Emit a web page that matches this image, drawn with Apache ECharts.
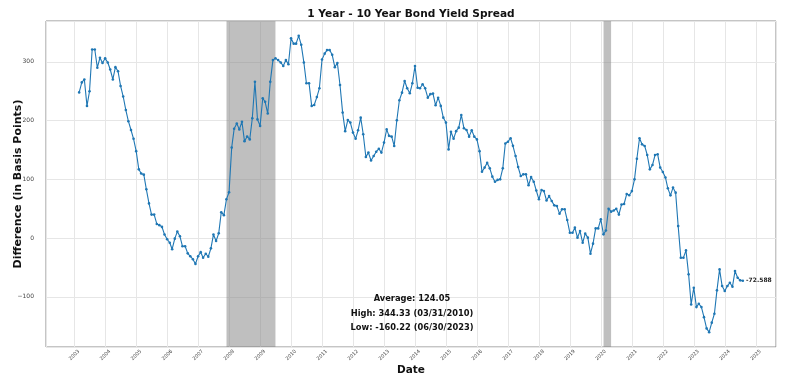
<!DOCTYPE html>
<html>
<head>
<meta charset="utf-8">
<script src="https://cdn.jsdelivr.net/npm/echarts@6/dist/echarts.min.js"></script>
<style>html,body{margin:0;padding:0;background:#fff}#c{width:800px;height:385px}</style>
</head>
<body>
<div id="c"></div>
<script>
// Monthly series (month-end), starting Feb 2003
const startYear = 2003;
const startMonth = 2;
const spread = [
  // 2003 (Feb-Dec)
  248, 265, 270, 225, 250, 321, 321, 290, 307, 298, 306,
  // 2004
  299, 287, 270, 291, 284, 259, 241, 218, 199, 184, 169, 148,
  // 2005
  117, 110, 108, 83, 59, 40, 40, 24, 22, 19, 6, -2,
  // 2006
  -8, -19, -1, 11, 3, -14, -14, -26, -31, -36, -44, -31,
  // 2007
  -24, -33.5, -26.6, -31.8, -17.5, 6, -5, 8, 44, 39, 66, 78,
  // 2008
  154, 186, 195, 185, 198, 165, 173, 168, 204, 266, 202, 191,
  // 2009
  238, 232, 212, 266, 303, 306, 303, 299, 293, 303, 296, 340,
  // 2010
  331, 331, 344.33, 329, 299, 263.5, 263.5, 225, 226.6, 240, 255, 304,
  // 2011
  314, 320, 320, 312, 291, 298, 260.6, 213.6, 182, 201, 196.6, 179.6,
  // 2012
  169, 183.5, 205, 176.7, 138, 145.5, 132, 139.7, 147, 152, 145.5, 162.5,
  // 2013
  185, 174, 172.7, 156.8, 200.5, 234.6, 247.6, 267.5, 255, 246.5, 263.5, 293,
  // 2014
  256, 255, 262, 255, 239, 245, 246, 226, 239, 225, 205, 196.6,
  // 2015
  151, 181, 169, 182, 188, 209.6, 187, 184, 172.7, 183.5, 172.7, 168,
  // 2016
  148, 113, 120, 128, 118.7, 104.6, 96, 99, 100, 118.7, 161, 164,
  // 2017
  170, 157, 139.7, 121, 105.6, 108.5, 108.5, 89.8, 104, 96, 81, 66,
  // 2018
  81.8, 80, 64, 71.6, 63, 55.7, 54.5, 41.5, 49, 49, 30.7, 9,
  // 2019
  9, 17.7, 0.7, 12, -8, 7.5, 0.7, -26.6, -9.5, 16.5, 16.5, 32,
  // 2020
  6.3, 13, 50, 45, 47, 50, 40, 57, 58, 75, 73, 80,
  // 2021
  100, 135, 170, 159.6, 156.8, 141.4, 117, 124.4, 141.4, 142.6, 120, 112.4,
  // 2022
  103, 84.7, 72.7, 86, 77.3, 20.4, -33.4, -33.4, -21, -61.8, -113, -84.5,
  // 2023
  -117.5, -111.8, -117.5, -134.6, -153.8, -160.22, -144, -128.8, -89, -53.3, -81.7, -90,
  // 2024 (Jan-Jul)
  -81.7, -76, -82.8, -56, -67.5, -72, -72.588
];
const recessions = [
  ['2007-12-01', '2009-06-30'],
  ['2020-02-01', '2020-04-30']
];
const titleText = '1 Year - 10 Year Bond Yield Spread';
const yAxisTitle = 'Difference (in Basis Points)';
const xAxisTitle = 'Date';
const statLines = ['Average: 124.05', 'High: 344.33 (03/31/2010)', 'Low: -160.22 (06/30/2023)'];

function monthEnd(i) {
  const m0 = startMonth - 1 + i;
  const y = startYear + Math.floor(m0 / 12);
  const m = m0 % 12;
  return Date.UTC(y, m + 1, 0);
}
const dates = spread.map((v, i) => monthEnd(i));
const data = spread.map((v, i) => {
  const item = { value: [dates[i], v] };
  if (i === spread.length - 1) {
    item.label = { show: true, position: 'right', distance: 2, formatter: '-72.588',
      fontSize: 6, fontWeight: 'bold', color: '#222', fontFamily: 'DejaVu Sans' };
  }
  return item;
});

const t0 = dates[0], t1 = dates[dates.length - 1];
const xMin = t0 - 0.05 * (t1 - t0), xMax = t1 + 0.05 * (t1 - t0);
const hi = Math.max(...spread), lo = Math.min(...spread);
const yMin = lo - 0.05 * (hi - lo), yMax = hi + 0.05 * (hi - lo);

const FONT = 'DejaVu Sans';
const chart = echarts.init(document.getElementById('c'), null, { renderer: 'canvas' });
const YEAR = 365.25 * 24 * 3600 * 1000;
chart.setOption({
  animation: false,
  backgroundColor: '#fff',
  grid: { left: 46, right: 24, top: 21, bottom: 38, outerBoundsMode: 'none', containLabel: false,
    show: true, borderColor: '#8a8a8a', borderWidth: 1, backgroundColor: 'transparent' },
  xAxis: {
    type: 'time', min: xMin, max: xMax, splitNumber: 24,
    minInterval: YEAR * 0.99, maxInterval: YEAR * 1.01,
    name: xAxisTitle, nameLocation: 'middle', nameGap: 18, nameMoveOverlap: false,
    nameTextStyle: { fontFamily: FONT, fontSize: 10.5, fontWeight: 'bold', color: '#111' },
    axisLine: { show: false }, axisTick: { show: false },
    axisLabel: { formatter: '{yyyy}', rotate: 45, fontSize: 5, color: '#444', fontFamily: FONT,
      align: 'center', verticalAlign: 'middle',
      showMinLabel: false, showMaxLabel: false, margin: 8, hideOverlap: false },
    splitLine: { show: true, lineStyle: { color: '#e6e6e6', width: 1 } }
  },
  yAxis: {
    type: 'value', min: yMin, max: yMax, splitNumber: 5,
    name: yAxisTitle, nameLocation: 'middle', nameGap: 22, nameMoveOverlap: false,
    nameTextStyle: { fontFamily: FONT, fontSize: 11, fontWeight: 'bold', color: '#111' },
    axisLine: { show: false }, axisTick: { show: false },
    axisLabel: { fontSize: 6, color: '#444', fontFamily: FONT, margin: 12,
      showMinLabel: false, showMaxLabel: false, formatter: v => (v < 0 ? '\u2212' + Math.abs(v) : String(v)) },
    splitLine: { show: true, lineStyle: { color: '#e6e6e6', width: 1 } }
  },
  graphic: [
    { type: 'text', x: 411, y: 14, z: 100, style: { text: titleText, font: 'bold 10.6px "DejaVu Sans"', fill: '#111', align: 'center', verticalAlign: 'middle' } },
    { type: 'text', x: 412, y: 299, z: 100, style: { text: statLines[0], font: 'bold 8.3px "DejaVu Sans"', fill: '#111', align: 'center', verticalAlign: 'middle' } },
    { type: 'text', x: 412, y: 313.5, z: 100, style: { text: statLines[1], font: 'bold 8.3px "DejaVu Sans"', fill: '#111', align: 'center', verticalAlign: 'middle' } },
    { type: 'text', x: 412, y: 328, z: 100, style: { text: statLines[2], font: 'bold 8.3px "DejaVu Sans"', fill: '#111', align: 'center', verticalAlign: 'middle' } }
  ],
  series: [{
    type: 'line', data: data,
    symbol: 'circle', symbolSize: 2.6, showSymbol: true,
    lineStyle: { color: '#1f77b4', width: 1.1 },
    itemStyle: { color: '#1f77b4' },
    markArea: {
      silent: true,
      itemStyle: { color: 'rgba(128,128,128,0.5)', opacity: 1 },
      data: recessions.map(r => [{ xAxis: Date.parse(r[0]) }, { xAxis: Date.parse(r[1]) }])
    },
    z: 3
  }]
});
</script>
</body>
</html>
